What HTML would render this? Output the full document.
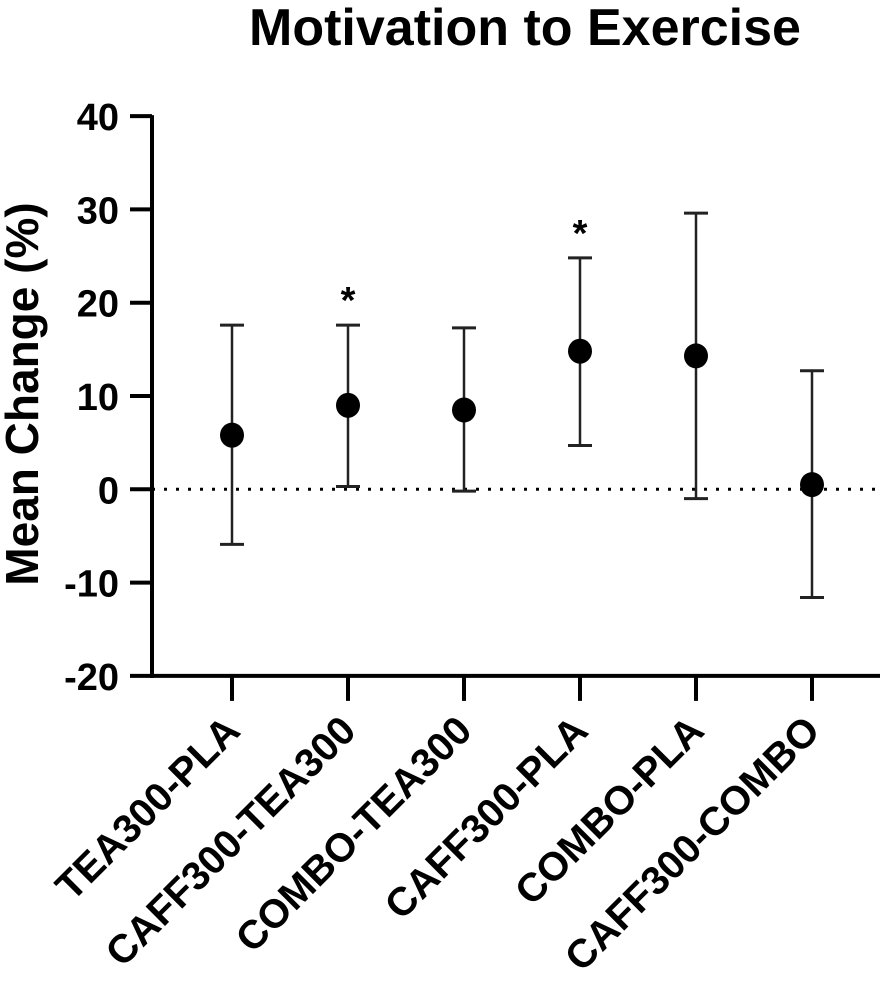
<!DOCTYPE html>
<html><head><meta charset="utf-8"><style>
body{margin:0;background:#fff;}
svg{display:block;font-family:"Liberation Sans",Arial,sans-serif;font-weight:bold;}
</style></head><body>
<svg id="chart" width="894" height="987" viewBox="0 0 894 987">
<text x="525" y="45" text-anchor="middle" font-size="52">Motivation to Exercise</text>
<text transform="translate(38,394) rotate(-90)" text-anchor="middle" font-size="46">Mean Change (%)</text>
<g id="plot"></g>
</svg>
<script>
const categories=["TEA300-PLA","CAFF300-TEA300","COMBO-TEA300","CAFF300-PLA","COMBO-PLA","CAFF300-COMBO"];
const means=[5.8,9.0,8.5,14.8,14.3,0.5];
const upper=[17.6,17.6,17.3,24.8,29.6,12.7];
const lower=[-5.9,0.3,-0.2,4.7,-1.0,-11.6];
const significant=[false,true,false,true,false,false];
const yTicks=[-20,-10,0,10,20,30,40];
const NS="http://www.w3.org/2000/svg";
const g=document.getElementById('plot');
const X0=152,Y0=489.3,PX=9.33,STEP=116,FIRST=232;
function y(v){return Y0-v*PX;}
function x(i){return FIRST+i*STEP;}
function mk(t,a){const e=document.createElementNS(NS,t);for(const k in a)e.setAttribute(k,a[k]);g.appendChild(e);return e;}
let e;
e=mk('line',{x1:X0,y1:y(40)-1,x2:X0,y2:y(-20)+2,stroke:'#000','stroke-width':4});


e=mk('line',{x1:X0-2,y1:y(-20),x2:880,y2:y(-20),stroke:'#000','stroke-width':4});


e=mk('line',{x1:X0,y1:y(0),x2:880,y2:y(0),stroke:'#000','stroke-width':3,'stroke-dasharray':'3 9'});


yTicks.forEach(v=>{
 e=mk('line',{x1:X0-22,y1:y(v),x2:X0,y2:y(v),stroke:'#000','stroke-width':4});
 
 
 e=mk('text',{x:X0-33,y:y(v)+14,'text-anchor':'end','font-size':38});
 e.textContent=v;
 
 
});
categories.forEach((c,i)=>{
 const cx=x(i);
 e=mk('line',{x1:cx,y1:y(-20),x2:cx,y2:y(-20)+25,stroke:'#000','stroke-width':4});
 
 
 e=mk('text',{transform:`translate(${cx+10},${y(-20)+57}) rotate(-45)`,'text-anchor':'end','font-size':40});
 e.textContent=c;
 
 
 e=mk('line',{x1:cx,y1:y(upper[i]),x2:cx,y2:y(lower[i]),stroke:'#222','stroke-width':2.5});
 
 
 e=mk('line',{x1:cx-12,y1:y(upper[i]),x2:cx+12,y2:y(upper[i]),stroke:'#222','stroke-width':3});
 
 
 e=mk('line',{x1:cx-12,y1:y(lower[i]),x2:cx+12,y2:y(lower[i]),stroke:'#222','stroke-width':3});
 
 
 e=mk('ellipse',{cx:cx,cy:y(means[i]),rx:12,ry:12.5,fill:'#000'});
 
 
 if(significant[i]){
  e=mk('text',{x:cx,y:y(upper[i])-12,'text-anchor':'middle','font-size':38});
  e.textContent='*';
  
  
 }
});
</script>
</body></html>
